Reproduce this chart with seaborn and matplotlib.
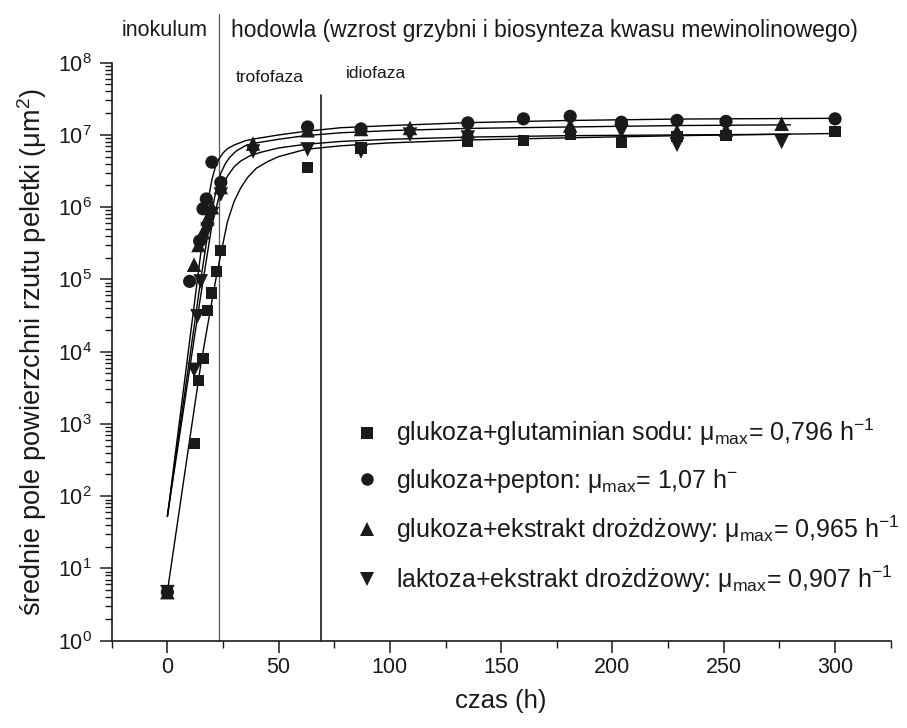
import numpy as np
import pandas as pd
import matplotlib
matplotlib.use("Agg")
import matplotlib.pyplot as plt
import seaborn as sns
from matplotlib.ticker import MultipleLocator, LogLocator, NullFormatter, FixedLocator
from matplotlib.lines import Line2D

# ---------------- data ----------------
t_sq = [0, 12, 14, 16, 18, 20, 22, 24, 63, 87, 135, 160, 181, 204, 229, 251, 300]
y_sq = [4.7, 5.3e2, 4.0e3, 8.0e3, 3.7e4, 6.5e4, 1.27e5, 2.5e5, 3.5e6, 6.6e6, 8.1e6,
        8.4e6, 1.0e7, 7.9e6, 9.6e6, 9.8e6, 1.12e7]

t_ci = [0, 10, 14.5, 16, 17.5, 20, 24, 63, 87, 135, 160, 181, 204, 229, 251, 300]
y_ci = [4.7, 9.4e4, 3.4e5, 9.5e5, 1.3e6, 4.2e6, 2.2e6, 1.29e7, 1.21e7, 1.47e7, 1.67e7,
        1.81e7, 1.5e7, 1.59e7, 1.54e7, 1.67e7]

t_up = [0, 12, 14, 16, 18, 20, 24, 38.5, 63, 87, 109, 135, 181, 229, 251, 276]
y_up = [4.7, 1.6e5, 3.0e5, 4.5e5, 7.0e5, 1.0e6, 1.9e6, 7.6e6, 1.16e7, 1.21e7, 1.25e7,
        1.12e7, 1.35e7, 1.12e7, 1.18e7, 1.43e7]

t_dn = [0, 12, 13.5, 15, 18, 20, 24, 38.5, 63, 87, 109, 135, 204, 229, 276]
y_dn = [4.7, 5.6e3, 3.1e4, 9.4e4, 4.9e5, 8.0e5, 1.5e6, 5.9e6, 6.3e6, 5.9e6, 1.01e7,
        9.2e6, 1.12e7, 7.3e6, 8.0e6]

# fitted curves (log10 of the area)
fit_ci_t = [0, 5, 10, 15, 18, 20, 21.5, 23, 25, 27, 30, 35, 40, 50, 62, 78, 100, 135, 180, 230, 300]
fit_ci_lg = [1.72, 2.93, 4.15, 5.36, 6.05, 6.38, 6.55, 6.66, 6.75, 6.81, 6.86, 6.92, 6.95,
             7.00, 7.05, 7.10, 7.13, 7.17, 7.20, 7.22, 7.23]

fit_up_t = [0, 5, 10, 15, 19, 22, 24, 26, 28, 31, 35, 40, 50, 62, 78, 100, 135, 180, 230, 280]
fit_up_lg = [1.72, 2.82, 3.91, 5.00, 5.80, 6.25, 6.47, 6.60, 6.69, 6.78, 6.85, 6.89, 6.94,
             6.99, 7.03, 7.06, 7.09, 7.11, 7.13, 7.14]

fit_dn_t = [0, 5, 10, 15, 20, 23, 25, 27, 30, 33, 37, 42, 50, 62, 78, 100, 135, 180, 230, 280]
fit_dn_lg = [1.72, 2.74, 3.76, 4.78, 5.75, 6.12, 6.30, 6.43, 6.56, 6.64, 6.71, 6.76, 6.82,
             6.87, 6.91, 6.94, 6.97, 6.99, 7.00, 7.01]

fit_sq_t = [0, 5, 10, 15, 20, 22, 24, 27, 30, 33, 36, 40, 45, 50, 62, 78, 100, 135, 180, 230, 300]
fit_sq_lg = [0.68, 1.73, 2.78, 3.82, 4.70, 5.04, 5.35, 5.80, 6.08, 6.27, 6.41, 6.54, 6.63,
             6.70, 6.80, 6.85, 6.89, 6.93, 6.96, 6.99, 7.02]

labels = [
    "glukoza+glutaminian sodu: μ$_{\\mathrm{max}}$= 0,796 h$^{-1}$",
    "glukoza+pepton: μ$_{\\mathrm{max}}$= 1,07 h$^{-}$",
    "glukoza+ekstrakt drożdżowy: μ$_{\\mathrm{max}}$= 0,965 h$^{-1}$",
    "laktoza+ekstrakt drożdżowy: μ$_{\\mathrm{max}}$= 0,907 h$^{-1}$",
]
x_ticks = [0, 50, 100, 150, 200, 250, 300]
phase_lines = [23, 69]

# ---------------- style ----------------
sns.set_theme(style="ticks")
plt.rcParams["font.family"] = ["Liberation Sans", "DejaVu Sans"]
plt.rcParams["mathtext.fontset"] = "custom"
plt.rcParams["mathtext.rm"] = "Liberation Sans"
plt.rcParams["mathtext.it"] = "Liberation Sans:italic"
plt.rcParams["mathtext.bf"] = "Liberation Sans:bold"
plt.rcParams["axes.unicode_minus"] = True

fig = plt.figure(figsize=(9.07, 7.28), dpi=100)
ax = fig.add_axes([0.1232, 0.1199, 0.982 - 0.1232, 0.9139 - 0.1199])

series = [
    (t_sq, y_sq, "s", 64, fit_sq_t, fit_sq_lg),
    (t_ci, y_ci, "o", 90, fit_ci_t, fit_ci_lg),
    (t_up, y_up, "^", 110, fit_up_t, fit_up_lg),
    (t_dn, y_dn, "v", 110, fit_dn_t, fit_dn_lg),
]

for (tt, yy, mk, sz, ft, fl), lab in zip(series, labels):
    dfit = pd.DataFrame({"t": ft, "y": np.power(10.0, fl)})
    sns.lineplot(data=dfit, x="t", y="y", ax=ax, color="black", lw=1.0,
                 estimator=None, sort=False, legend=False, zorder=2)
for (tt, yy, mk, sz, ft, fl), lab in zip(series, labels):
    d = pd.DataFrame({"t": tt, "y": yy})
    sns.scatterplot(data=d, x="t", y="y", ax=ax, marker=mk, s=sz, color="#1a1a1a",
                    edgecolor="none", linewidth=0, legend=False, zorder=3)

ax.set_yscale("log")
ax.set_xlim(-25, 325)
ax.set_ylim(1, 1e8)
ax.xaxis.set_major_locator(FixedLocator(x_ticks))
ax.xaxis.set_minor_locator(MultipleLocator(25))
ax.yaxis.set_major_locator(LogLocator(base=10, numticks=20))
ax.yaxis.set_minor_locator(LogLocator(base=10, subs=np.arange(2, 10), numticks=100))
ax.yaxis.set_minor_formatter(NullFormatter())

for s in ["top", "right"]:
    ax.spines[s].set_visible(False)
for s in ["left", "bottom"]:
    ax.spines[s].set_linewidth(1.2)
    ax.spines[s].set_color("#1a1a1a")

ax.tick_params(axis="both", which="major", direction="out", length=8.5, width=1.1,
               labelsize=15.5, colors="#1a1a1a", pad=6)
ax.tick_params(axis="both", which="minor", direction="out", length=5, width=1.0,
               colors="#1a1a1a")
ax.tick_params(axis="x", which="major", pad=3)

ax.set_xlabel("czas (h)", fontsize=18.5, labelpad=8, color="#1a1a1a")
ax.set_ylabel("średnie pole powierzchni rzutu peletki (μm$^{2}$)", fontsize=19.5,
              labelpad=6, color="#1a1a1a")

# phase boundaries
ax.axvline(phase_lines[0], ymin=0, ymax=(640.7 - 14) / 578.0, clip_on=False,
           color="#555555", lw=0.9, zorder=1)
ax.axvline(phase_lines[1], ymin=0, ymax=(640.7 - 95) / 578.0, clip_on=False,
           color="#1a1a1a", lw=1.2, zorder=1)

W, H = 907.0, 728.0
fig.text(165 / W, 1 - 30 / H, "inokulum", ha="center", va="center", fontsize=15.5,
         color="#1a1a1a")
fig.text(231 / W, 1 - 30 / H, "hodowla (wzrost grzybni i biosynteza kwasu mewinolinowego)",
         ha="left", va="center", fontsize=16.5, color="#1a1a1a")
fig.text(236 / W, 1 - 77 / H, "trofofaza", ha="left", va="center", fontsize=12.5,
         color="#1a1a1a")
fig.text(346 / W, 1 - 74 / H, "idiofaza", ha="left", va="center", fontsize=12.5,
         color="#1a1a1a")

handles = [Line2D([], [], ls="none", marker=m, markersize=ms, color="#1a1a1a",
                  markeredgewidth=0)
           for m, ms in [("s", 8), ("o", 9), ("^", 10), ("v", 10)]]
leg = ax.legend(handles, labels, loc="upper left", frameon=False,
                bbox_to_anchor=(354 / W, 1 - 417 / H), bbox_transform=fig.transFigure,
                borderpad=0, borderaxespad=0, handlelength=1.0, handletextpad=0.7,
                labelspacing=0.74, fontsize=18.0)
for txt in leg.get_texts():
    txt.set_color("#1a1a1a")

fig.savefig("out.png", dpi=100)
